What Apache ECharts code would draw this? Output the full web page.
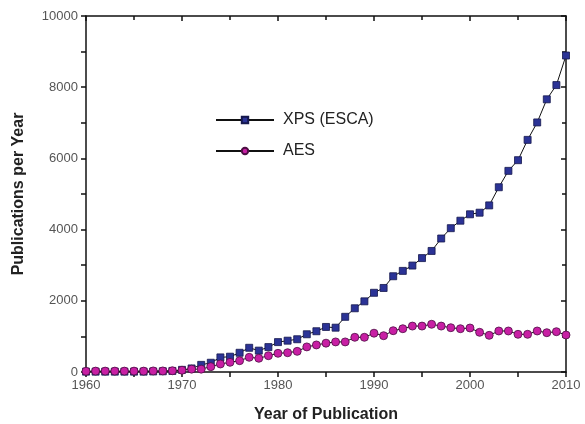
<!DOCTYPE html>
<html>
<head>
<meta charset="utf-8">
<script src="https://cdn.jsdelivr.net/npm/echarts@6/dist/echarts.min.js"></script>
<style>html,body{margin:0;padding:0;background:#fff;}#c{width:585px;height:424px;}</style>
</head>
<body>
<div id="c"></div>
<script>
const years = [];
for (let y = 1960; y <= 2010; y++) years.push(y);
const xpsValues = [10,10,10,10,10,10,10,15,20,30,
  60,100,200,260,410,430,540,680,600,700,
  840,880,920,1060,1145,1265,1245,1550,1790,1985,
  2225,2360,2690,2840,2990,3200,3400,3750,4040,4250,
  4430,4475,4680,5190,5650,5950,6520,7010,7660,8060,
  8890];
const aesValues = [20,25,25,25,25,25,25,30,30,35,
  50,80,80,150,225,272,318,413,385,458,
  525,542,580,705,760,810,845,845,975,975,
  1090,1020,1160,1216,1290,1290,1340,1290,1244,1216,
  1236,1115,1030,1152,1152,1059,1059,1152,1104,1132,
  1039];
const seriesNames = ['XPS (ESCA)', 'AES'];

const font = 'Liberation Sans, Arial, sans-serif';
const axisLine = {show: true, onZero: false, lineStyle: {color: '#111', width: 1.5}};
const plain = v => String(v);
const chart = echarts.init(document.getElementById('c'), null, {renderer: 'canvas'});
chart.setOption({
  animation: false,
  backgroundColor: '#fff',
  grid: {left: 86, right: 19, top: 16, bottom: 52, containLabel: false, outerBoundsMode: 'none'},
  legend: {
    orient: 'vertical', left: 210, top: 107, itemGap: 15,
    itemWidth: 58, itemHeight: 8,
    textStyle: {fontFamily: font, fontSize: 16, color: '#222', padding: [0, 0, 0, 4]},
    data: seriesNames
  },
  xAxis: [{
    type: 'value', min: 1960, max: 2010, interval: 10, position: 'bottom',
    axisLine: axisLine,
    axisTick: {show: true, inside: false, length: 5, lineStyle: {color: '#111', width: 1.5}},
    minorTick: {show: true, splitNumber: 2, length: 5, lineStyle: {color: '#111', width: 1.5}},
    axisLabel: {fontFamily: font, fontSize: 13, color: '#555', margin: 7, formatter: plain},
    splitLine: {show: false},
    name: 'Year of Publication', nameLocation: 'middle', nameGap: 35,
    nameTextStyle: {fontFamily: font, fontSize: 16, color: '#222', fontWeight: 'bold'}
  }, {
    type: 'value', min: 1960, max: 2010, interval: 10, position: 'top',
    axisLine: axisLine,
    axisTick: {show: true, inside: true, length: 5, lineStyle: {color: '#111', width: 1.5}},
    minorTick: {show: true, splitNumber: 2, length: 4, lineStyle: {color: '#111', width: 1.5}},
    axisLabel: {show: false}, splitLine: {show: false}
  }],
  yAxis: [{
    type: 'value', min: 0, max: 10000, interval: 2000, position: 'left',
    axisLine: axisLine,
    axisTick: {show: true, inside: false, length: 5, lineStyle: {color: '#111', width: 1.5}},
    minorTick: {show: true, splitNumber: 2, length: 5, lineStyle: {color: '#111', width: 1.5}},
    axisLabel: {fontFamily: font, fontSize: 13, color: '#555', margin: 8, formatter: plain},
    splitLine: {show: false},
    name: 'Publications per Year', nameLocation: 'middle', nameGap: 59,
    nameTextStyle: {fontFamily: font, fontSize: 16, color: '#222', fontWeight: 'bold'}
  }, {
    type: 'value', min: 0, max: 10000, interval: 2000, position: 'right',
    axisLine: axisLine,
    axisTick: {show: true, inside: true, length: 5, lineStyle: {color: '#111', width: 1.5}},
    minorTick: {show: true, splitNumber: 2, length: 4, lineStyle: {color: '#111', width: 1.5}},
    axisLabel: {show: false}, splitLine: {show: false}
  }],
  series: [{
    name: seriesNames[0], type: 'line', xAxisIndex: 0, yAxisIndex: 0,
    data: years.map((y, i) => [y, xpsValues[i]]),
    symbol: 'rect', symbolSize: 7,
    lineStyle: {color: '#111', width: 1},
    itemStyle: {color: '#2b3396', borderColor: '#15184d', borderWidth: 0.8},
    z: 2
  }, {
    name: seriesNames[1], type: 'line', xAxisIndex: 0, yAxisIndex: 0,
    data: years.map((y, i) => [y, aesValues[i]]),
    symbol: 'circle', symbolSize: 8,
    lineStyle: {color: '#111', width: 1},
    itemStyle: {color: '#c81fa4', borderColor: '#4d0f44', borderWidth: 0.8},
    z: 3
  }]
});
</script>
</body>
</html>
